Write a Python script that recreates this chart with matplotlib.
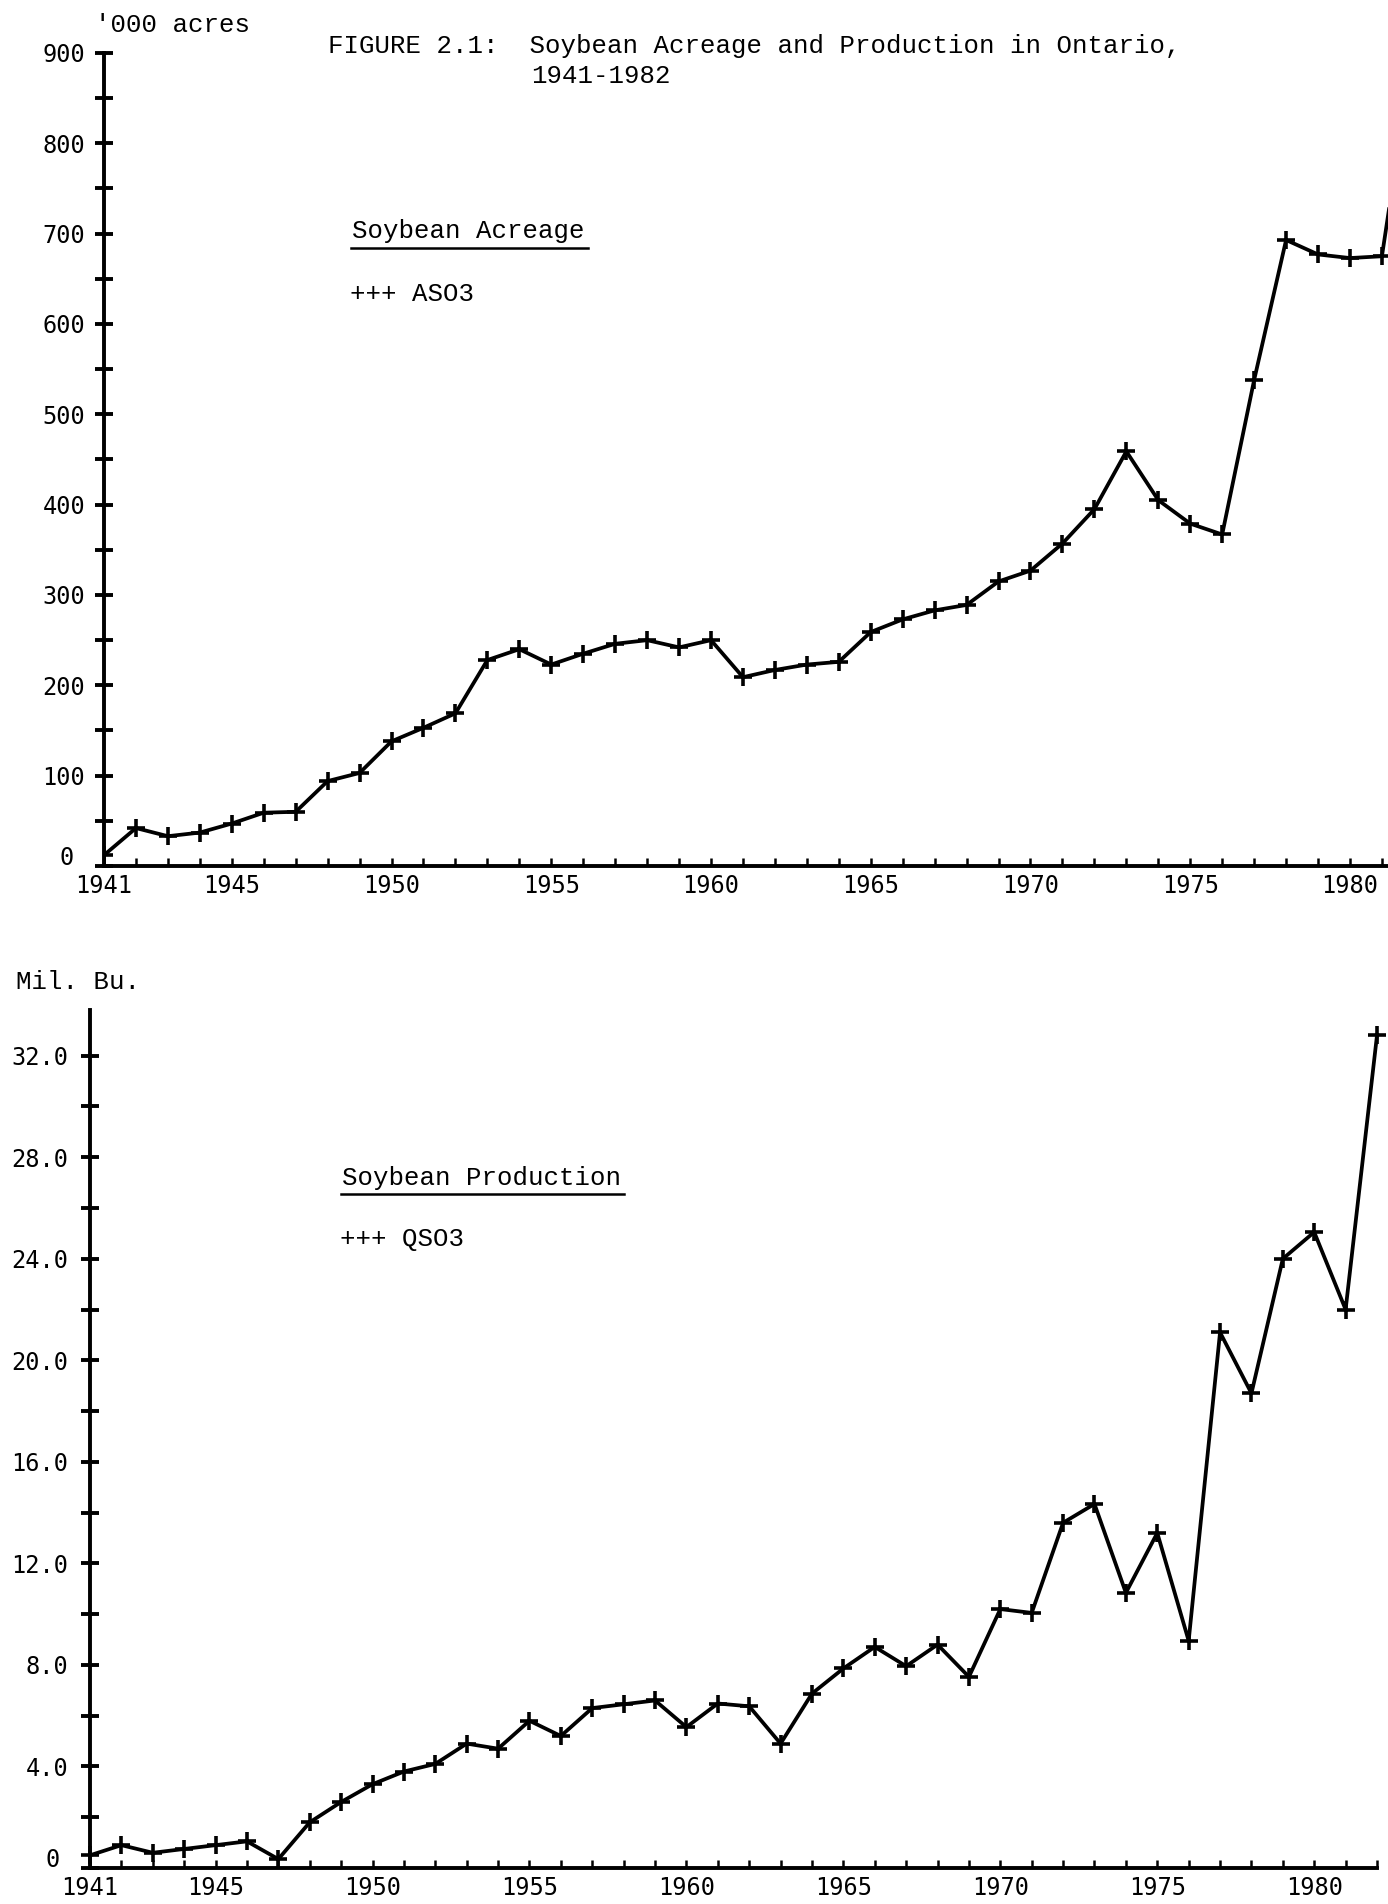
import matplotlib
matplotlib.use("Agg")
import matplotlib.pyplot as plt
from matplotlib.lines import Line2D
from matplotlib.ticker import FixedLocator, FuncFormatter

# ---------------- data ----------------
years = list(range(1941, 1983))
acreage = [12, 42, 33, 37, 47, 59, 60, 94, 103, 138,
           153, 169, 228, 240, 223, 235, 246, 250, 242, 250,
           209, 217, 223, 226, 259, 273, 283, 289, 315, 327,
           357, 395, 459, 405, 379, 367, 538, 693, 677, 673,
           675, 910]
production = [0.5, 0.9, 0.6, 0.75, 0.9, 1.05, 0.35, 1.8, 2.6, 3.3,
              3.8, 4.1, 4.9, 4.7, 5.8, 5.2, 6.3, 6.45, 6.6, 5.55,
              6.48, 6.37, 4.9, 6.87, 7.86, 8.71, 7.95, 8.8, 7.53, 10.2,
              10.05, 13.6, 14.34, 10.84, 13.2, 8.95, 21.1, 18.7, 24.0, 25.05,
              22.0, 32.8]
x_label_years = [1941, 1945, 1950, 1955, 1960, 1965, 1970, 1975, 1980]
acre_major = [0, 100, 200, 300, 400, 500, 600, 700, 800, 900]
acre_minor = [50, 150, 250, 350, 450, 550, 650, 750, 850]
prod_major = [0, 4, 8, 12, 16, 20, 24, 28, 32]
prod_minor = [2, 6, 10, 14, 18, 22, 26, 30]

TYPE = "Liberation Mono"
TICKF = "DejaVu Sans Mono"
W, H = 1388, 1904
fig = plt.figure(figsize=(W / 100, H / 100), dpi=100)
fig.patch.set_facecolor("white")


def fx(px):
    return px / W


def fy(py):
    return 1 - py / H


def style_axes(ax, ymaj, ymin, yfmt, ypad):
    for s in ("top", "right"):
        ax.spines[s].set_visible(False)
    ax.spines["left"].set_linewidth(2.8)
    ax.spines["bottom"].set_linewidth(2.8)
    ax.spines["left"].set_position(("data", 1941))
    ax.yaxis.set_major_locator(FixedLocator(ymaj))
    ax.yaxis.set_minor_locator(FixedLocator(ymin))
    ax.yaxis.set_major_formatter(FuncFormatter(yfmt))
    ax.tick_params(axis="y", which="both", direction="inout", length=13,
                   width=2.8, pad=ypad, labelsize=17)
    ax.xaxis.set_major_locator(FixedLocator(x_label_years))
    ax.xaxis.set_minor_locator(FixedLocator(years))
    ax.tick_params(axis="x", which="both", direction="in", length=6,
                   width=1.8, pad=6, labelsize=17)
    for lab in ax.get_xticklabels() + ax.get_yticklabels():
        lab.set_family(TICKF)
    ax.set_facecolor("none")
    # the zero label sits left of and slightly above the origin
    ax.annotate("0", xy=(0, 0), xycoords=("axes fraction", "data"),
                xytext=(-22, 6), textcoords="offset points",
                ha="right", va="center", family=TICKF, fontsize=17)


# ---------------- top: acreage ----------------
ax1 = fig.add_axes([fx(104), fy(866), fx(1388 - 104), (866 - 53) / H])
ax1.plot(years, acreage, color="black", lw=2.7, marker="+", ms=13, mew=2.6,
         clip_on=True)
ax1.set_xlim(1941, 1981.19)
ax1.set_ylim(0, 900)
style_axes(ax1, acre_major, acre_minor,
           lambda v, p: "" if v == 0 else f"{int(v)}", 7)

# ---------------- bottom: production ----------------
ax2 = fig.add_axes([fx(90), fy(1868), fx(1377 - 90), (1868 - 1010) / H])
ax2.plot(years, production, color="black", lw=2.7, marker="+", ms=13, mew=2.6,
         clip_on=False)
ax2.set_xlim(1941, 1982.0)
ax2.set_ylim(0, 33.8)
style_axes(ax2, prod_major, prod_minor,
           lambda v, p: "" if v == 0 else f"{v:.1f}", 9)

# ---------------- texts ----------------
tsize = 18.5
fig.text(fx(328), fy(46), "FIGURE 2.1:  Soybean Acreage and Production in Ontario,",
         family=TYPE, fontsize=tsize, va="center", ha="left")
fig.text(fx(531), fy(76), "1941-1982", family=TYPE, fontsize=tsize,
         va="center", ha="left")
fig.text(fx(95), fy(25), "'000 acres", family=TYPE, fontsize=tsize,
         va="center", ha="left")
fig.text(fx(16), fy(982), "Mil. Bu.", family=TYPE, fontsize=tsize,
         va="center", ha="left")

fig.text(fx(352), fy(231), "Soybean Acreage", family=TYPE, fontsize=tsize,
         va="center", ha="left")
fig.add_artist(Line2D([fx(351), fx(588)], [fy(248), fy(248)], color="black",
                      lw=1.8, transform=fig.transFigure))
fig.text(fx(350), fy(294), "+++ ASO3", family=TYPE, fontsize=tsize,
         va="center", ha="left")

fig.text(fx(342), fy(1178), "Soybean Production", family=TYPE, fontsize=tsize,
         va="center", ha="left")
fig.add_artist(Line2D([fx(341), fx(624)], [fy(1194), fy(1194)], color="black",
                      lw=1.8, transform=fig.transFigure))
fig.text(fx(340), fy(1239), "+++ QSO3", family=TYPE, fontsize=tsize,
         va="center", ha="left")

fig.savefig("out.png", dpi=100, facecolor="white")
